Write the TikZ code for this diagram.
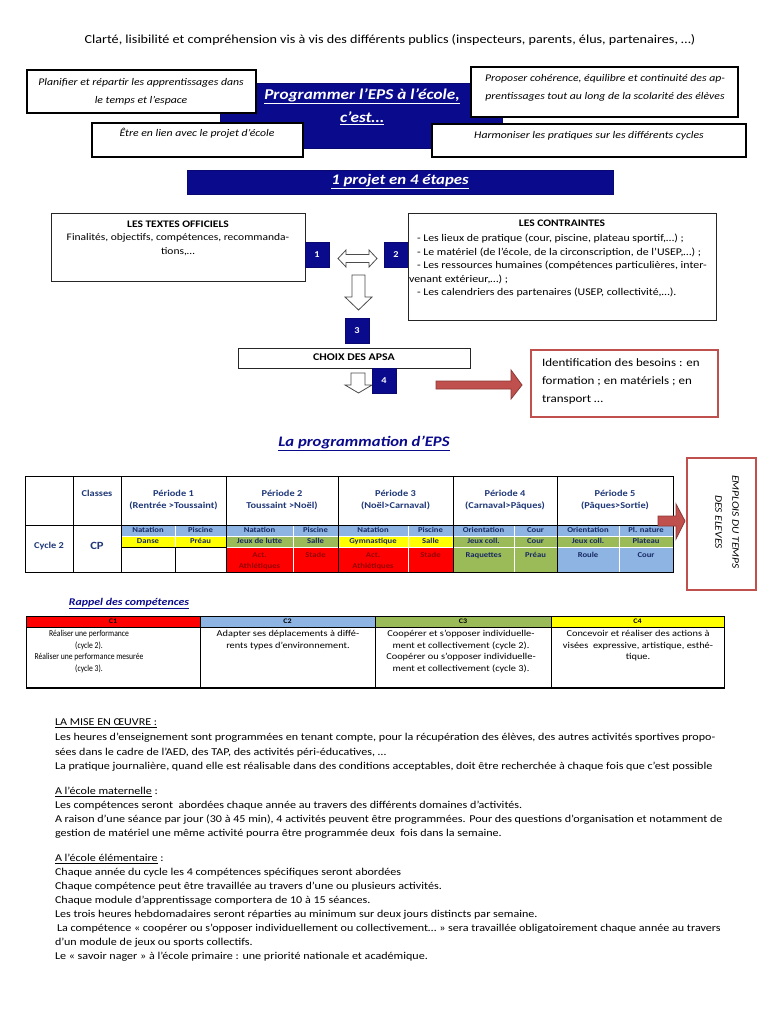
\documentclass[tikz,border=0pt]{standalone}
\usepackage{fontspec}
\setmainfont{Carlito}[FakeStretch=1.15]
\newfontfamily\condfont{Carlito}[FakeStretch=0.85]
\definecolor{navy}{RGB}{10,10,140}
\definecolor{cellnavy}{RGB}{23,40,100}
\definecolor{hdrnavy}{RGB}{31,56,120}
\definecolor{cblue}{RGB}{141,180,226}
\definecolor{cgreen}{RGB}{155,187,89}
\definecolor{cyellow}{RGB}{255,255,0}
\definecolor{cred}{RGB}{255,0,0}
\definecolor{redtxt}{RGB}{150,0,0}
\definecolor{brick}{RGB}{192,80,77}
\definecolor{darkbrick}{RGB}{140,56,54}
\newcounter{lnc}
\newcommand{\lineat}[4][]{\stepcounter{lnc}\node[txt,#1] (l\arabic{lnc}) at (#2,#3) {#4};}
\newcommand{\rect}[6][]{\node[#1, anchor=north west, minimum width={#5-#3}, minimum height={#6-#4}] (#2) at (#3,#4) {};}
\newcommand{\numat}[4]{\node[numbox, anchor=north west, minimum width=24, minimum height=25] (#1) at (#2,#3) {#4};}
% table cells
\newcommand{\rowa}[5]{\node[cellst, fill=#4, anchor=north west, minimum width={#3-#2}, minimum height=11] (#1) at (#2,525) {};
  \node[celltxt] (#1t) at ({(#2+#3)/2},530.6) {#5};}
\newcommand{\rowb}[5]{\node[cellst, fill=#4, anchor=north west, minimum width={#3-#2}, minimum height=11] (#1) at (#2,536) {};
  \node[celltxt] (#1t) at ({(#2+#3)/2},541.6) {#5};}
\newcommand{\rowc}[6]{\node[cellst, fill=#4, anchor=north west, minimum width={#3-#2}, minimum height=25] (#1) at (#2,547) {};
  \node[celltxt, text=#6, anchor=north, align=center] (#1t) at ({(#2+#3)/2},552.5) {#5};}
\begin{document}
\begin{tikzpicture}[x=1pt,y=-1pt,
  txt/.style={inner sep=0pt, outer sep=0pt, anchor=mid},
  thickbox/.style={draw=black, line width=2.6pt, fill=white, inner sep=0pt, outer sep=0pt},
  thinbox/.style={draw=black!85, line width=0.9pt, fill=white, inner sep=0pt, outer sep=0pt},
  redbox/.style={draw=brick, line width=2.4pt, fill=white, inner sep=0pt, outer sep=0pt},
  navybox/.style={fill=navy, draw=navy!80!black, line width=0.5pt, inner sep=0pt, outer sep=0pt},
  numbox/.style={navybox, text=white, font=\bfseries\fontsize{9}{10}\selectfont},
  hollow/.style={draw=black!70, line width=0.8pt, fill=white, line join=miter},
  redarrow/.style={fill=brick, draw=darkbrick, line width=0.8pt},
  cellst/.style={draw=white, line width=0.6pt, inner sep=0pt, outer sep=0pt},
  celltxt/.style={inner sep=0pt, outer sep=0pt, anchor=mid, text=cellnavy, font=\bfseries\fontsize{7.5}{11}\selectfont},
  hdrtxt/.style={txt, text=hdrnavy, font=\bfseries\fontsize{9}{11}\selectfont},
  tline/.style={draw=black, line width=0.9pt},
  comptxt/.style={txt, font=\fontsize{9}{10}\selectfont},
  compc/.style={txt, font=\condfont\fontsize{9}{10}\selectfont},
  compchead/.style={txt, font=\bfseries\fontsize{7}{8}\selectfont},
  body/.style={txt, anchor=mid west, font=\fontsize{10.5}{13}\selectfont},
  topit/.style={txt, font=\itshape\fontsize{10.2}{11}\selectfont},
  midtxt/.style={txt, font=\fontsize{10.3}{12}\selectfont},
]
\useasboundingbox (0,0) rectangle (768,1024);
\fill[white] (0,0) rectangle (768,1024);

% Title
\lineat[font=\fontsize{12.3}{14}\selectfont]{390}{41}{Clarté, lisibilité et compréhension vis à vis des différents publics (inspecteurs, parents, élus, partenaires, …)}

% Central blue box
\rect[navybox]{prog}{220}{83}{502}{148}
\lineat[text=white, font=\bfseries\itshape\fontsize{15}{16}\selectfont]{362}{97}{\underline{Programmer l’EPS à l’école,}}
\lineat[text=white, font=\bfseries\itshape\fontsize{15}{16}\selectfont]{362}{120}{\underline{c’est…}}

% Four white boxes
\rect[thickbox]{plan}{27}{70}{256}{113}
\lineat[topit]{141}{83}{Planifier et répartir les apprentissages dans}
\lineat[topit]{141}{101}{le temps et l’espace}
\rect[thickbox]{prop}{471}{67}{738}{117}
\lineat[topit]{605}{79}{Proposer cohérence, équilibre et continuité des ap-}
\lineat[topit]{605}{97}{prentissages tout au long de la scolarité des élèves}
\rect[thickbox]{etre}{92}{123}{303}{157}
\lineat[topit]{197}{134}{Être en lien avec le projet d’école}
\rect[thickbox]{harm}{432}{124}{746}{157}
\lineat[topit]{589}{136}{Harmoniser les pratiques sur les différents cycles}

% 1 projet en 4 etapes
\rect[navybox]{projet}{187}{170}{613}{194}
\lineat[text=white, font=\bfseries\itshape\fontsize{14.6}{16}\selectfont]{400}{182}{\underline{1 projet en 4 étapes}}

% Textes officiels
\rect[thinbox]{textes}{51}{213}{305}{281}
\lineat[midtxt, font=\bfseries\fontsize{10}{12}\selectfont]{178}{225}{LES TEXTES OFFICIELS}
\lineat[midtxt, font=\fontsize{10}{12}\selectfont]{178}{238}{Finalités, objectifs, compétences, recommanda-}
\lineat[midtxt, font=\fontsize{10}{12}\selectfont]{178}{252}{tions,…}
\numat{n1}{305}{242}{1}

% double arrow
\draw[hollow] (338,258.5) -- (346,250) -- (346,254.5) -- (369,254.5) -- (369,250) -- (377,258.5) -- (369,267) -- (369,262.5) -- (346,262.5) -- (346,267) -- cycle;

\numat{n2}{384}{242}{2}
% Contraintes
\rect[thinbox]{contr}{408}{213}{716}{320}
\lineat[midtxt, font=\bfseries\fontsize{10}{12}\selectfont]{562}{224}{LES CONTRAINTES}
\lineat[midtxt, anchor=mid west]{417}{239}{- Les lieux de pratique (cour, piscine, plateau sportif,…) ;}
\lineat[midtxt, anchor=mid west]{417}{253}{- Le matériel (de l’école, de la circonscription, de l’USEP,…) ;}
\lineat[midtxt, anchor=mid west]{417}{266}{- Les ressources humaines (compétences particulières, inter-}
\lineat[midtxt, anchor=mid west]{409}{280}{venant extérieur,…) ;}
\lineat[midtxt, anchor=mid west]{417}{293}{- Les calendriers des partenaires (USEP, collectivité,…).}

% down arrow 1
\draw[hollow] (352,275) -- (365,275) -- (365,297) -- (372,297) -- (358.5,310) -- (345,297) -- (352,297) -- cycle;
\numat{n3}{345}{318}{3}

% Choix des APSA
\rect[thinbox]{choix}{238}{348}{470}{368}
\lineat[font=\bfseries\fontsize{10.3}{11}\selectfont]{354}{358}{CHOIX DES APSA}
\draw[hollow] (351,373) -- (365,373) -- (365,385) -- (372,385) -- (358.5,393) -- (345,385) -- (351,385) -- cycle;
\numat{n4}{372}{368}{4}

% red arrow and identification box
\draw[redarrow] (436,381) -- (511,381) -- (511,370) -- (522,385) -- (511,399) -- (511,389) -- (436,389) -- cycle;
\rect[redbox]{ident}{531}{350}{718}{417}
\lineat[anchor=mid west, font=\fontsize{11.3}{13}\selectfont]{542}{364}{Identification des besoins : en}
\lineat[anchor=mid west, font=\fontsize{11.3}{13}\selectfont]{542}{382}{formation ; en matériels ; en}
\lineat[anchor=mid west, font=\fontsize{11.3}{13}\selectfont]{542}{400}{transport …}

% La programmation d'EPS
\lineat[text=navy, font=\bfseries\itshape\fontsize{14.5}{16}\selectfont]{364}{444}{\underline{La programmation d’EPS}}

% ===== Table =====
\lineat[hdrtxt]{97}{494}{Classes}
\lineat[hdrtxt]{173.5}{494}{Période 1}
\lineat[hdrtxt]{173.5}{506}{(Rentrée >Toussaint)}
\lineat[hdrtxt]{282}{494}{Période 2}
\lineat[hdrtxt]{282}{506}{Toussaint >Noël)}
\lineat[hdrtxt]{395.5}{494}{Période 3}
\lineat[hdrtxt]{395.5}{506}{(Noël>Carnaval)}
\lineat[hdrtxt]{505}{494}{Période 4}
\lineat[hdrtxt]{505}{506}{(Carnaval>Pâques)}
\lineat[hdrtxt]{615}{494}{Période 5}
\lineat[hdrtxt]{615}{506}{(Pâques>Sortie)}
\lineat[hdrtxt]{49}{546}{Cycle 2}
\lineat[hdrtxt, font=\bfseries\fontsize{11}{12}\selectfont]{97}{547}{CP}

% period 1
\rowa{a1}{121}{175}{cblue}{Natation}
\rowa{b1}{175}{226}{cblue}{Piscine}
\rowb{c1}{121}{175}{cyellow}{Danse}
\rowb{d1}{175}{226}{cyellow}{Préau}
\rowc{e1}{121}{175}{white}{}{cellnavy}
\rowc{f1}{175}{226}{white}{}{cellnavy}
% period 2
\rowa{a2}{226}{293}{cblue}{Natation}
\rowa{b2}{293}{338}{cblue}{Piscine}
\rowb{c2}{226}{293}{cgreen}{Jeux de lutte}
\rowb{d2}{293}{338}{cgreen}{Salle}
\rowc{e2}{226}{293}{cred}{Act.\\Athlétiques}{redtxt}
\rowc{f2}{293}{338}{cred}{Stade}{redtxt}
% period 3
\rowa{a3}{338}{408}{cblue}{Natation}
\rowa{b3}{408}{453}{cblue}{Piscine}
\rowb{c3}{338}{408}{cyellow}{Gymnastique}
\rowb{d3}{408}{453}{cyellow}{Salle}
\rowc{e3}{338}{408}{cred}{Act.\\Athlétiques}{redtxt}
\rowc{f3}{408}{453}{cred}{Stade}{redtxt}
% period 4
\rowa{a4}{453}{514}{cblue}{Orientation}
\rowa{b4}{514}{557}{cblue}{Cour}
\rowb{c4}{453}{514}{cgreen}{Jeux coll.}
\rowb{d4}{514}{557}{cgreen}{Cour}
\rowc{e4}{453}{514}{cgreen}{Raquettes}{cellnavy}
\rowc{f4}{514}{557}{cgreen}{Préau}{cellnavy}
% period 5
\rowa{a5}{557}{619}{cblue}{Orientation}
\rowa{b5}{619}{673}{cblue}{Pl. nature}
\rowb{c5}{557}{619}{cgreen}{Jeux coll.}
\rowb{d5}{619}{673}{cgreen}{Plateau}
\rowc{e5}{557}{619}{cblue}{Roule}{cellnavy}
\rowc{f5}{619}{673}{cblue}{Cour}{cellnavy}

% table grid
\draw[tline] (25,476) rectangle (673,572);
\draw[tline] (25,525) -- (673,525);
\foreach \xv in {73,121,226,338,453,557} {\draw[tline] (\xv,476) -- (\xv,572);}
\draw[draw=black, line width=0.6pt] (175,547) -- (175,572);
\draw[draw=black, line width=0.6pt] (121,547) -- (226,547);

% arrow to emplois du temps
\draw[redarrow] (658,516) -- (676,516) -- (676,504) -- (685,521) -- (676,539) -- (676,526) -- (658,526) -- cycle;
\rect[redbox]{emplois}{687}{458}{756}{590}
\node[inner sep=0pt, rotate=-90, align=center, font=\itshape\fontsize{10}{17}\selectfont] (emt) at (727,522) {EMPLOIS DU TEMPS\\DES ELEVES};

% ===== Competences =====
\lineat[text=navy, font=\bfseries\itshape\fontsize{10.3}{13}\selectfont]{129}{603}{\underline{Rappel des compétences}}
\rect[cellst, fill=cred, draw=black, line width=0.6pt]{h1}{26}{616}{200}{627}
\rect[cellst, fill=cblue, draw=black, line width=0.6pt]{h2}{200}{616}{375}{627}
\rect[cellst, fill=cgreen, draw=black, line width=0.6pt]{h3}{375}{616}{551}{627}
\rect[cellst, fill=cyellow, draw=black, line width=0.6pt]{h4}{551}{616}{724}{627}
\lineat[compchead]{113}{621.5}{C1}
\lineat[compchead]{287.5}{621.5}{C2}
\lineat[compchead]{463}{621.5}{C3}
\lineat[compchead]{637.5}{621.5}{C4}
\draw[tline] (26,616) rectangle (724,688);
\draw[draw=black, line width=2pt] (26,688) -- (724,688);
\foreach \xv in {200,375,551} {\draw[tline] (\xv,616) -- (\xv,688);}
\lineat[compc]{89}{634}{Réaliser une performance}
\lineat[compc]{89}{646}{(cycle 2).}
\lineat[compc]{89}{657}{Réaliser une performance mesurée}
\lineat[compc]{89}{669}{(cycle 3).}
\lineat[comptxt]{288}{634}{Adapter ses déplacements à diffé-}
\lineat[comptxt]{288}{646}{rents types d’environnement.}
\lineat[comptxt]{461}{634}{Coopérer et s’opposer individuelle-}
\lineat[comptxt]{461}{646}{ment et collectivement (cycle 2).}
\lineat[comptxt]{461}{657}{Coopérer ou s’opposer individuelle-}
\lineat[comptxt]{461}{669}{ment et collectivement (cycle 3).}
\lineat[comptxt]{638}{634}{Concevoir et réaliser des actions à}
\lineat[comptxt]{638}{646}{visées\ \ expressive, artistique, esthé-}
\lineat[comptxt]{638}{657}{tique.}

% ===== Body text =====
\lineat[body]{55}{723}{\underline{LA MISE EN ŒUVRE :}}
\lineat[body]{55}{738}{Les heures d’enseignement sont programmées en tenant compte, pour la récupération des élèves, des autres activités sportives propo-}
\lineat[body]{55}{753}{sées dans le cadre de l’AED, des TAP, des activités péri-éducatives, …}
\lineat[body]{55}{767}{La pratique journalière, quand elle est réalisable dans des conditions acceptables, doit être recherchée à chaque fois que c’est possible}
\lineat[body]{55}{792}{\underline{A l’école maternelle} :}
\lineat[body]{55}{806}{Les compétences seront\ \ abordées chaque année au travers des différents domaines d’activités.}
\lineat[body]{55}{820}{A raison d’une séance par jour (30 à 45 min), 4 activités peuvent être programmées. Pour des questions d’organisation et notamment de}
\lineat[body]{55}{834}{gestion de matériel une même activité pourra être programmée deux\ \ fois dans la semaine.}
\lineat[body]{55}{859}{\underline{A l’école élémentaire} :}
\lineat[body]{55}{873}{Chaque année du cycle les 4 compétences spécifiques seront abordées}
\lineat[body]{55}{887}{Chaque compétence peut être travaillée au travers d’une ou plusieurs activités.}
\lineat[body]{55}{901}{Chaque module d’apprentissage comportera de 10 à 15 séances.}
\lineat[body]{55}{915}{Les trois heures hebdomadaires seront réparties au minimum sur deux jours distincts par semaine.}
\lineat[body]{57}{929}{La compétence « coopérer ou s’opposer individuellement ou collectivement… » sera travaillée obligatoirement chaque année au travers}
\lineat[body]{55}{943}{d’un module de jeux ou sports collectifs.}
\lineat[body]{55}{957}{Le « savoir nager » à l’école primaire : une priorité nationale et académique.}
\end{tikzpicture}
\end{document}
